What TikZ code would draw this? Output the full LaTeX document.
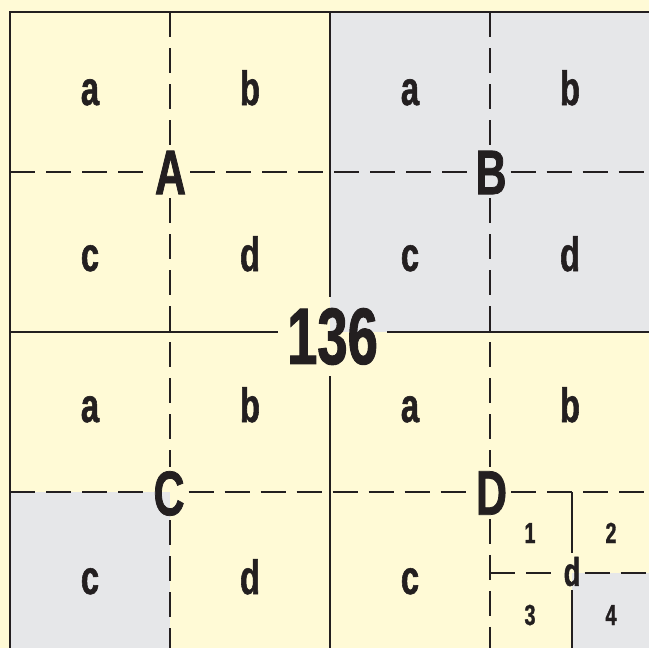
\documentclass[tikz,border=0pt]{standalone}
\usepackage{fontspec}
\newfontfamily\lblfont{Liberation Sans}[FakeStretch=0.68, FakeBold=1.2]
\definecolor{paper}{RGB}{255,250,214}
\definecolor{shade}{RGB}{230,231,233}
\definecolor{ink}{RGB}{35,31,32}
\tikzset{
  cell/.style    ={fill=shade},
  rim/.style     ={draw=ink, line width=1.3pt},
  solidln/.style ={draw=ink, line width=2.2pt},
  dashln/.style  ={draw=ink, line width=2.2pt, dash pattern=on 25pt off 11pt},
  lbl/.style     ={text=ink, inner sep=0pt, anchor=base,
                   font=\lblfont\bfseries\fontsize{48}{48}\selectfont},
  num/.style     ={lbl, font=\lblfont\bfseries\fontsize{29}{29}\selectfont},
  quad/.style    ={text=ink, inner sep=4pt,
                   font=\lblfont\bfseries\fontsize{63}{63}\selectfont},
  subq/.style    ={quad, font=\lblfont\bfseries\fontsize{40}{40}\selectfont},
  total/.style   ={text=ink, inner xsep=9pt, inner ysep=11pt,
                   font=\lblfont\bfseries\fontsize{80}{80}\selectfont},
}

\begin{document}
\begin{tikzpicture}[x=1pt,y=-1pt]
  \fill[paper] (0,0) rectangle (649,648);
  \useasboundingbox (0,0) rectangle (649,648);
  \clip (0,0) rectangle (649,648);

  % --- grid crossings --------------------------------------------------
  \coordinate (xA) at (170,172);
  \coordinate (xB) at (490,172);
  \coordinate (xC) at (170,492);
  \coordinate (xD) at (490,492);
  \coordinate (xO) at (330,332);
  \coordinate (xd) at (572,573);

  % --- shaded cells ----------------------------------------------------
  \fill[cell] (330,12) rectangle (650,332);
  \fill[cell] (10,492) rectangle (170,652);
  \fill[cell] (xd) rectangle (650,652);

  % --- crossing labels -------------------------------------------------
  \node[quad]  (nA)   at ([shift={(0.5,0.5)}]xA) {A};
  \node[quad]  (nB)   at ([shift={(1,0.5)}]xB)   {B};
  \node[quad]  (nC)   at ([shift={(-1,1.5)}]xC)  {C};
  \node[quad]  (nD)   at ([shift={(1.5,1)}]xD)   {D};
  \node[total] (n136) at ([shift={(2.5,4.5)}]xO) {136};
  \node[subq]  (nd)   at ([shift={(0,-1.5)}]xd)  {d};

  % --- cell letters ----------------------------------------------------
  \node[lbl] (Aa) at (90,105)  {a};
  \node[lbl] (Ab) at (250,105) {b};
  \node[lbl] (Ac) at (90,271)  {c};
  \node[lbl] (Ad) at (250,271) {d};
  \node[lbl] (Ba) at (410,105) {a};
  \node[lbl] (Bb) at (570,105) {b};
  \node[lbl] (Bc) at (410,271) {c};
  \node[lbl] (Bd) at (570,271) {d};
  \node[lbl] (Ca) at (90,422)  {a};
  \node[lbl] (Cb) at (250,422) {b};
  \node[lbl] (Cc) at (90,594)  {c};
  \node[lbl] (Cd) at (250,594) {d};
  \node[lbl] (Da) at (410,422) {a};
  \node[lbl] (Db) at (570,422) {b};
  \node[lbl] (Dc) at (410,594) {c};
  \node[num] (D1) at (530,543) {1};
  \node[num] (D2) at (611,543) {2};
  \node[num] (D3) at (530,625) {3};
  \node[num] (D4) at (611,625) {4};

  % --- lines -----------------------------------------------------------
  \draw[rim] (650,12) -- (10,12) -- (10,652);
  \draw[solidln] (xO |- 0,12) -- (n136.north -| xO);
  \draw[solidln] (n136.south -| xO) -- (xO |- 0,652);
  \draw[solidln] (xO -| 10,0) -- (n136.west |- xO);
  \draw[solidln] (n136.east |- xO) -- (xO -| 650,0);

  \draw[dashln] (xA -| 10,0) -- (nA.west |- xA);
  \draw[dashln] (nA.east |- xA) -- (nB.west |- xB);
  \draw[dashln] (nB.east |- xB) -- (xB -| 650,0);
  \draw[dashln] (xC -| 10,0) -- (nC.west |- xC);
  \draw[dashln] (nC.east |- xC) -- (nD.west |- xD);
  \draw[dashln] (nD.east |- xD) -- (xD -| 650,0);

  \draw[dashln] (xA |- 0,12) -- (nA.north -| xA);
  \draw[dashln] (nA.south -| xA) -- (nC.north -| xC);
  \draw[dashln] (nC.south -| xC) -- (xC |- 0,652);
  \draw[dashln] (xB |- 0,12) -- (nB.north -| xB);
  \draw[dashln] (nB.south -| xB) -- (nD.north -| xD);
  \draw[dashln] (nD.south -| xD) -- (xD |- 0,652);

  % --- subdivided cell D d ---------------------------------------------
  \draw[solidln] (xd |- xD) -- (nd.north -| xd);
  \draw[solidln] (nd.south -| xd) -- (xd |- 0,652);
  \draw[dashln] (xd -| xD) -- (nd.west |- xd);
  \draw[dashln] (nd.east |- xd) -- (xd -| 650,0);
\end{tikzpicture}
\end{document}
